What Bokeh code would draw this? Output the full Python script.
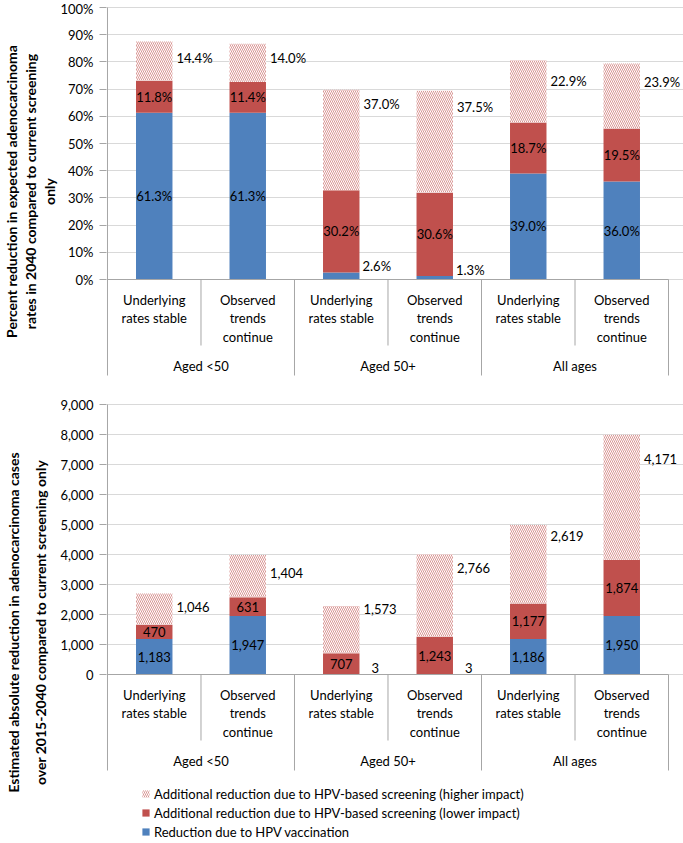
import numpy as np
from bokeh.plotting import figure
from bokeh.models import (Range1d, FixedTicker, PrintfTickFormatter, NumeralTickFormatter,
                          ColumnDataSource, Title, Legend, LegendItem)
from bokeh.layouts import column
from bokeh.embed import file_html
from bokeh.resources import INLINE
from bokeh.core.properties import value

# ---------------- data ----------------
groups = ["Aged <50", "Aged 50+", "All ages"]
scenario_lines = [["Underlying", "rates stable"], ["Observed", "trends", "continue"]]
series_names = ["Additional reduction due to HPV-based screening (higher impact)",
                "Additional reduction due to HPV-based screening (lower impact)",
                "Reduction due to HPV vaccination"]

pct_vacc = [61.3, 61.3, 2.6, 1.3, 39.0, 36.0]
pct_lower = [11.8, 11.4, 30.2, 30.6, 18.7, 19.5]
pct_higher = [14.4, 14.0, 37.0, 37.5, 22.9, 23.9]
pct_ticks = [0, 10, 20, 30, 40, 50, 60, 70, 80, 90, 100]

abs_vacc = [1183, 1947, 3, 3, 1186, 1950]
abs_lower = [470, 631, 707, 1243, 1177, 1874]
abs_higher = [1046, 1404, 1573, 2766, 2619, 4171]
abs_ticks = [0, 1000, 2000, 3000, 4000, 5000, 6000, 7000, 8000, 9000]

title_top = ["Percent reduction in expected adenocarcinoma",
             "rates in 2040 compared to current screening",
             "only"]
title_bot = ["Estimated absolute reduction in adenocarcinoma cases",
             "over 2015-2040 compared to current screening only"]

# ---------------- style / layout ----------------
FONT = "Lato"
BLUE = "#4F81BD"
RED = "#C0504D"
AXIS_C = "#A6A6A6"
GRID_C = "#D9D9D9"
FIG_W = 683
FRAME_L = 98
SLOT_PX = 94.8
BAR_W = 0.39
X_START = -1.0 / SLOT_PX
X_END = X_START + (FIG_W - FRAME_L) / SLOT_PX

# label nudges (px below bar top) for the hatched-series labels
hi_dy_top = [16, 14, 14, 16, 21, 18]
hi_dy_bot = [13, 18, 3, 14, 11, 24]


def build(vacc, lower, higher, ticks, tick_fmt, fmt, fig_h, top_border, frame_h,
          zero_px, hi_dy, small_dx, titles, title_offset, inner_standoff, with_legend=False):
    vacc = np.array(vacc, float)
    lower = np.array(lower, float)
    higher = np.array(higher, float)
    n = len(vacc)
    ymax = ticks[-1]
    ppu = zero_px / ymax
    y_end = ymax + 1.0 / ppu
    y_start = -(frame_h - 1 - zero_px) / ppu

    p = figure(width=FIG_W, height=fig_h, x_range=Range1d(X_START, X_END),
               y_range=Range1d(y_start, y_end), output_backend="svg",
               toolbar_location=None,
               min_border_left=FRAME_L, min_border_right=0,
               min_border_top=top_border, min_border_bottom=fig_h - top_border - frame_h)
    p.title.visible = False
    p.outline_line_color = None
    p.xaxis.visible = False
    p.xgrid.visible = False
    p.ygrid.ticker = FixedTicker(ticks=ticks)
    p.ygrid.grid_line_color = GRID_C
    ax = p.yaxis[0]
    ax.ticker = FixedTicker(ticks=ticks)
    ax.formatter = tick_fmt
    ax.axis_line_color = None
    ax.major_tick_line_color = AXIS_C
    ax.major_tick_out = 7
    ax.major_tick_in = 0
    ax.minor_tick_line_color = None
    ax.major_label_standoff = 6
    ax.major_label_text_font = FONT
    ax.major_label_text_font_size = "13px"
    ax.major_label_text_color = "#000000"

    x = np.arange(n) + 0.5
    mid = vacc + lower
    tot = mid + higher
    r_v = p.vbar(x=x, bottom=0, top=vacc, width=BAR_W, fill_color=BLUE, line_color=None)
    r_l = p.vbar(x=x, bottom=vacc, top=mid, width=BAR_W, fill_color=RED, line_color=None)
    r_h = p.vbar(x=x, bottom=mid, top=tot, width=BAR_W, fill_color="white", line_color=None,
                 hatch_pattern="\\", hatch_color=RED, hatch_alpha=0.6,
                 hatch_scale=4, hatch_weight=1)

    def dy(px):
        return -px / ppu

    # category axis
    p.segment(x0=[0], y0=[0], x1=[n], y1=[0], line_color=AXIS_C, line_width=1)
    p.segment(x0=[0], y0=[dy(96)], x1=[0], y1=[ymax], line_color=AXIS_C, line_width=1)
    inner = [i for i in range(1, n + 1) if i % 2 == 1]
    outer = [i for i in range(1, n + 1) if i % 2 == 0]
    p.segment(x0=inner, y0=[0] * len(inner), x1=inner, y1=[dy(66)] * len(inner),
              line_color=AXIS_C)
    p.segment(x0=outer, y0=[0] * len(outer), x1=outer, y1=[dy(96)] * len(outer),
              line_color=AXIS_C)

    cx, cy, ct = [], [], []
    for i in range(n):
        for j, line in enumerate(scenario_lines[i % 2]):
            cx.append(i + 0.5)
            cy.append(dy(20 + 18.5 * j))
            ct.append(line)
    for g, name in enumerate(groups):
        cx.append(2 * g + 1)
        cy.append(dy(86))
        ct.append(name)
    p.text(x=cx, y=cy, text=ct, text_align="center", text_baseline="middle",
           text_font=value(FONT), text_font_size="13px", text_color="#000000")

    # data labels
    ix, iy, it = [], [], []
    ox, oy, ot = [], [], []
    for i in range(n):
        if vacc[i] * ppu >= 16:
            ix.append(x[i]); iy.append(vacc[i] / 2); it.append(fmt(vacc[i]))
        else:
            ox.append(x[i] + BAR_W / 2); oy.append(vacc[i]); ot.append(fmt(vacc[i]))
        ix.append(x[i]); iy.append(vacc[i] + lower[i] / 2); it.append(fmt(lower[i]))
    p.text(x=ix, y=iy, text=it, text_align="center", text_baseline="middle",
           text_font=value(FONT), text_font_size="13px", text_color="#000000")
    p.text(x=ox, y=oy, text=ot, text_align="left", text_baseline="middle",
           x_offset=small_dx, y_offset=-6,
           text_font=value(FONT), text_font_size="13px", text_color="#000000")
    src_h = ColumnDataSource(dict(x=x + BAR_W / 2, y=tot, t=[fmt(v) for v in higher],
                                  dy=hi_dy))
    p.text(x="x", y="y", text="t", source=src_h, text_align="left", text_baseline="middle",
           x_offset=4, y_offset="dy",
           text_font=value(FONT), text_font_size="13px", text_color="#000000")

    # rotated y-axis title, one Title per line (innermost line added first)
    for k, line in enumerate(reversed(titles)):
        p.add_layout(Title(text=line, align="center", offset=title_offset,
                           standoff=inner_standoff if k == 0 else 0,
                           text_font=FONT, text_font_style="bold", text_font_size="14px",
                           text_color="#000000"), "left")

    if with_legend:
        legend = Legend(items=[LegendItem(label=series_names[0], renderers=[r_h]),
                               LegendItem(label=series_names[1], renderers=[r_l]),
                               LegendItem(label=series_names[2], renderers=[r_v])],
                        location=(35, 0), orientation="vertical",
                        label_text_font=FONT, label_text_font_size="13px",
                        label_text_color="#000000",
                        glyph_width=9, glyph_height=9, label_height=19, label_standoff=4,
                        spacing=0, padding=0, margin=0, border_line_color=None,
                        background_fill_alpha=0)
        p.add_layout(legend)
    return p


p1 = build(pct_vacc, pct_lower, pct_higher, pct_ticks, PrintfTickFormatter(format="%d%%"),
           lambda v: f"{v:.1f}%", fig_h=388, top_border=6, frame_h=370, zero_px=272,
           hi_dy=hi_dy_top, small_dx=3, titles=title_top, title_offset=43, inner_standoff=0)
p2 = build(abs_vacc, abs_lower, abs_higher, abs_ticks, NumeralTickFormatter(format="0,0"),
           lambda v: f"{v:,.0f}", fig_h=453, top_border=15, frame_h=438, zero_px=270,
           hi_dy=hi_dy_bot, small_dx=12, titles=title_bot, title_offset=49,
           inner_standoff=17, with_legend=True)

layout = column(p1, p2, spacing=0)
open("out.html", "w").write(file_html(layout, INLINE))
